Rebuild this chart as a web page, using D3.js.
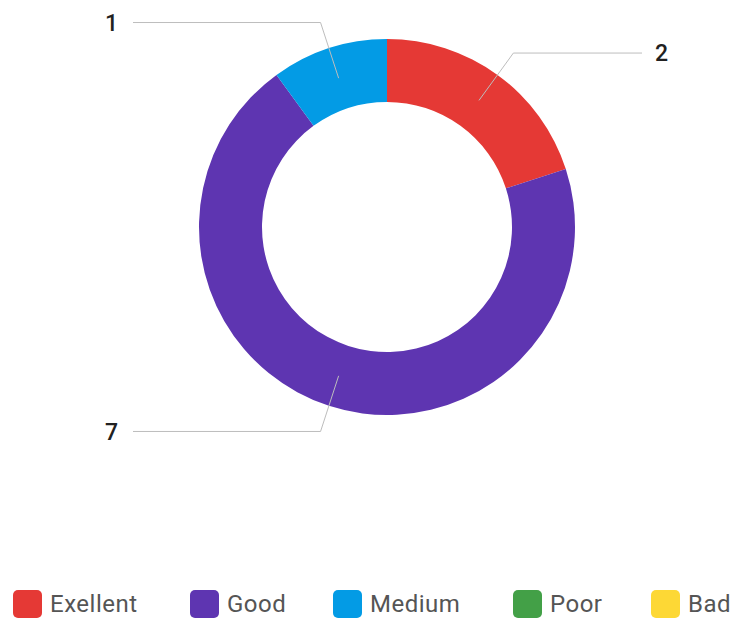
<!DOCTYPE html>
<html><head><meta charset="utf-8">
<script src="https://cdn.jsdelivr.net/npm/d3@7"></script>
<style>body{margin:0;background:#fff}svg{display:block}</style>
</head><body>
<svg id="c" width="734" height="619"></svg>
<script>
const categories = ["Exellent", "Good", "Medium", "Poor", "Bad"];
const values = [2, 7, 1, 0, 0];
const colors = ["#E53935", "#5E35B1", "#039BE5", "#43A047", "#FDD835"];

const svg = d3.select("#c");
const cx = 387, cy = 227, R = 188, r = 125;
const g = svg.append("g").attr("transform", `translate(${cx},${cy})`);

const data = categories.map((c, i) => ({cat: c, value: values[i], color: colors[i]}));
const pie = d3.pie().value(d => d.value).sort(null);
const arcs = pie(data);
const arc = d3.arc().innerRadius(r).outerRadius(R);
const mid = d3.arc().innerRadius((r + R) / 2).outerRadius((r + R) / 2);
const outer = d3.arc().innerRadius(R + 27).outerRadius(R + 27);

g.selectAll("path.s").data(arcs.filter(d => d.data.value > 0)).join("path")
  .attr("class", "s").attr("d", arc).attr("fill", d => d.data.color);

const lab = arcs.filter(d => d.data.value > 0);
lab.forEach(d => {
  const p1 = mid.centroid(d), p2 = outer.centroid(d);
  const a = (d.startAngle + d.endAngle) / 2;
  const right = Math.sin(a) > 0;
  const xEnd = right ? 255 : -254;
  g.append("polyline")
    .attr("points", [p1, p2, [xEnd, p2[1]]].map(p => p.join(",")).join(" "))
    .attr("fill", "none").attr("stroke", "#bdbdbd").attr("stroke-width", 1);
  g.append("text")
    .attr("x", right ? xEnd + 13 : xEnd - 15)
    .attr("y", p2[1]).attr("dy", "0.35em")
    .attr("text-anchor", right ? "start" : "end")
    .attr("font-family", "Roboto, sans-serif").attr("font-size", 23)
    .attr("font-weight", 500)
    .attr("fill", "#212121")
    .text(d.data.value);
});

const legendX = [13, 190, 333, 513, 651];
const lg = svg.append("g");
data.forEach((d, i) => {
  const it = lg.append("g").attr("transform", `translate(${legendX[i]},590)`);
  it.append("rect").attr("width", 29).attr("height", 28).attr("rx", 5).attr("fill", d.color);
  it.append("text").attr("x", 37).attr("y", 14).attr("dy", "0.35em")
    .attr("font-family", "Roboto, sans-serif").attr("font-size", 24)
    .attr("letter-spacing", "0.5px")
    .attr("fill", "#555").text(d.cat);
});
</script>
</body></html>
